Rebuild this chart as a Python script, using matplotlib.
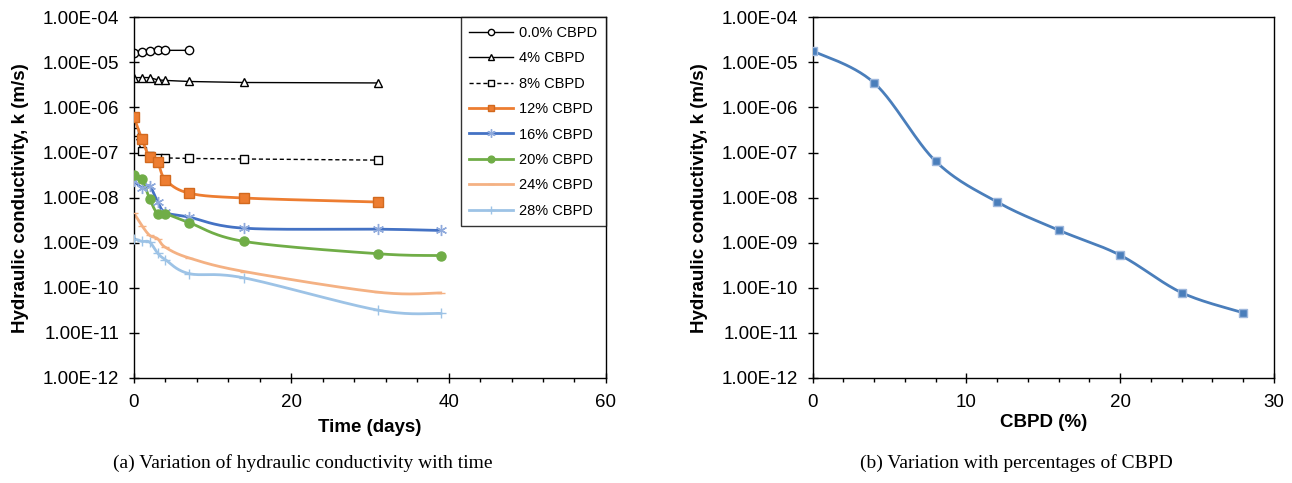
import numpy as np
import matplotlib
matplotlib.use("Agg")
import matplotlib.pyplot as plt
from matplotlib.ticker import FixedLocator, FuncFormatter, MultipleLocator

plt.rcParams["font.family"] = ["Liberation Sans", "DejaVu Sans"]

# (a) hydraulic conductivity vs time, one list per CBPD content
days_short = [0, 1, 2, 3, 4, 7]
days_31 = [0, 1, 2, 3, 4, 7, 14, 31]
days_39 = [0, 1, 2, 3, 4, 7, 14, 31, 39]

k_0 = [1.62e-5, 1.70e-5, 1.82e-5, 1.85e-5, 1.85e-5, 1.85e-5]
k_4 = [4.6e-6, 4.6e-6, 4.6e-6, 4.1e-6, 3.98e-6, 3.77e-6, 3.58e-6, 3.5e-6]
k_8 = [2.8e-7, 1.1e-7, 8.3e-8, 7.6e-8, 7.6e-8, 7.4e-8, 7.2e-8, 6.8e-8]
k_12 = [6.1e-7, 1.97e-7, 7.9e-8, 6.1e-8, 2.5e-8, 1.26e-8, 9.8e-9, 8.0e-9]
k_16 = [2.4e-8, 1.66e-8, 1.8e-8, 8.2e-9, 4.7e-9, 3.7e-9, 2.1e-9, 2.0e-9, 1.87e-9]
k_20 = [3.1e-8, 2.6e-8, 9.3e-9, 4.4e-9, 4.4e-9, 2.8e-9, 1.07e-9, 5.7e-10, 5.2e-10]
k_24 = [4.5e-9, 2.4e-9, 1.45e-9, 1.23e-9, 7.9e-10, 4.6e-10, 2.3e-10, 8.0e-11, 7.7e-11]
k_28 = [1.23e-9, 1.07e-9, 1.03e-9, 5.9e-10, 4.2e-10, 2.07e-10, 1.66e-10, 3.2e-11, 2.7e-11]

# (b) final k vs CBPD content
cbpd = [0, 4, 8, 12, 16, 20, 24, 28]
k_final = [1.8e-5, 3.5e-6, 6.4e-8, 8.0e-9, 1.9e-9, 5.3e-10, 7.8e-11, 2.8e-11]

ytick_vals = [1e-12, 1e-11, 1e-10, 1e-9, 1e-8, 1e-7, 1e-6, 1e-5, 1e-4]


def smooth(x, y, xspan, w, h, n=30):
    # Excel-style smoothed line (Catmull-Rom -> Bezier) in screen-like units
    px = np.asarray(x, float) / xspan * w
    py = np.log10(np.asarray(y, float)) / 8.0 * h
    pts = np.column_stack([px, py])
    out = [pts[0]]
    t = np.linspace(0, 1, n)[1:, None]
    for i in range(len(pts) - 1):
        p0 = pts[i - 1] if i > 0 else pts[i]
        p1, p2 = pts[i], pts[i + 1]
        p3 = pts[i + 2] if i + 2 < len(pts) else pts[i + 1]
        c1 = p1 + (p2 - p0) / 6
        c2 = p2 - (p3 - p1) / 6
        seg = (1 - t) ** 3 * p1 + 3 * (1 - t) ** 2 * t * c1 + 3 * (1 - t) * t ** 2 * c2 + t ** 3 * p2
        out.extend(seg)
    out = np.array(out)
    return out[:, 0] / w * xspan, 10 ** (out[:, 1] / h * 8.0)


def style_axes(ax, xmax, xmajor, xminor):
    ax.set_yscale("log")
    ax.set_ylim(1e-12, 1e-4)
    ax.set_xlim(0, xmax)
    ax.yaxis.set_major_locator(FixedLocator(ytick_vals))
    ax.yaxis.set_minor_locator(FixedLocator([]))
    ax.yaxis.set_major_formatter(FuncFormatter(lambda v, p: f"{v:.2E}"))
    ax.xaxis.set_major_locator(MultipleLocator(xmajor))
    ax.xaxis.set_minor_locator(MultipleLocator(xminor))
    ax.tick_params(axis="both", which="major", direction="inout", length=7, width=1,
                   labelsize=13.5, pad=7, colors="black")
    ax.tick_params(axis="x", which="major", pad=8)
    ax.tick_params(axis="x", which="minor", direction="out", length=3, width=1)
    for s in ax.spines.values():
        s.set_linewidth(1)
        s.set_color("black")
    ax.set_ylabel("Hydraulic conductivity, k (m/s)", fontsize=13.5, fontweight="bold", labelpad=10)


fig = plt.figure(figsize=(12.92, 4.83), dpi=100)
ax1 = fig.add_axes([0.1037, 0.2174, 0.3653, 0.7468])
ax2 = fig.add_axes([0.629, 0.2174, 0.357, 0.7468])

W1, H1 = 472, 361

# plain straight series
ax1.plot(days_short, k_0, color="black", lw=1, marker="o", ms=6, mfc="white", mec="black",
         mew=1, label="0.0% CBPD")
ax1.plot(days_31, k_4, color="black", lw=1, marker="^", ms=6, mfc="white", mec="black",
         mew=1, label="4% CBPD")
ax1.plot(days_31, k_8, color="black", lw=1, ls=(0, (3, 2)), marker="s", ms=5.5, mfc="white",
         mec="black", mew=1, label="8% CBPD")

# smoothed series
smoothed = [
    (days_31, k_12, "#ED7D31", dict(marker="s", ms=6.5, mfc="#ED7D31", mec="#D2691E"), "12% CBPD"),
    (days_39, k_16, "#4472C4", dict(marker=(6, 2, 0), ms=8, mec="#8FAADC", mew=1), "16% CBPD"),
    (days_39, k_20, "#70AD47", dict(marker="o", ms=6.5, mfc="#70AD47", mec="#70AD47"), "20% CBPD"),
    (days_39, k_24, "#F4B183", dict(marker="_", ms=6, mec="#F4B183", mew=1), "24% CBPD"),
    (days_39, k_28, "#9DC3E6", dict(marker="+", ms=7, mec="#9DC3E6", mew=1), "28% CBPD"),
]
for x, y, c, mk, lab in smoothed:
    sx, sy = smooth(x, y, 60, W1, H1)
    ax1.plot(sx, sy, color=c, lw=2, zorder=2)
    ax1.plot(x, y, ls="none", zorder=3, **mk)
    ax1.plot([], [], color=c, lw=2, label=lab, **mk)

style_axes(ax1, 60, 20, 4)
ax1.set_xlabel("Time (days)", fontsize=13.5, fontweight="bold", labelpad=6)
leg = ax1.legend(loc="upper right", bbox_to_anchor=(1, 1), borderaxespad=0, fontsize=10.5,
                 frameon=True, fancybox=False, edgecolor="black", handlelength=3.0,
                 labelspacing=0.78, borderpad=0.6, handletextpad=0.4, markerscale=0.75)
leg.get_frame().set_linewidth(1)

# (b)
sx, sy = smooth(cbpd, k_final, 30, 461, H1)
ax2.plot(sx, sy, color="#4A7EBB", lw=2, zorder=2)
ax2.plot(cbpd, k_final, ls="none", marker="s", ms=6, mfc="#4A7EBB", mec="#9DB7DC", mew=1, zorder=3)
style_axes(ax2, 30, 10, 2)
ax2.set_xlabel("CBPD (%)", fontsize=13.5, fontweight="bold", labelpad=2)

fig.text(0.2345, 0.041, "(a) Variation of hydraulic conductivity with time", ha="center",
         va="center", fontsize=14, family="Liberation Serif")
fig.text(0.787, 0.041, "(b) Variation with percentages of CBPD", ha="center",
         va="center", fontsize=14, family="Liberation Serif")

fig.savefig("out.png", dpi=100)
